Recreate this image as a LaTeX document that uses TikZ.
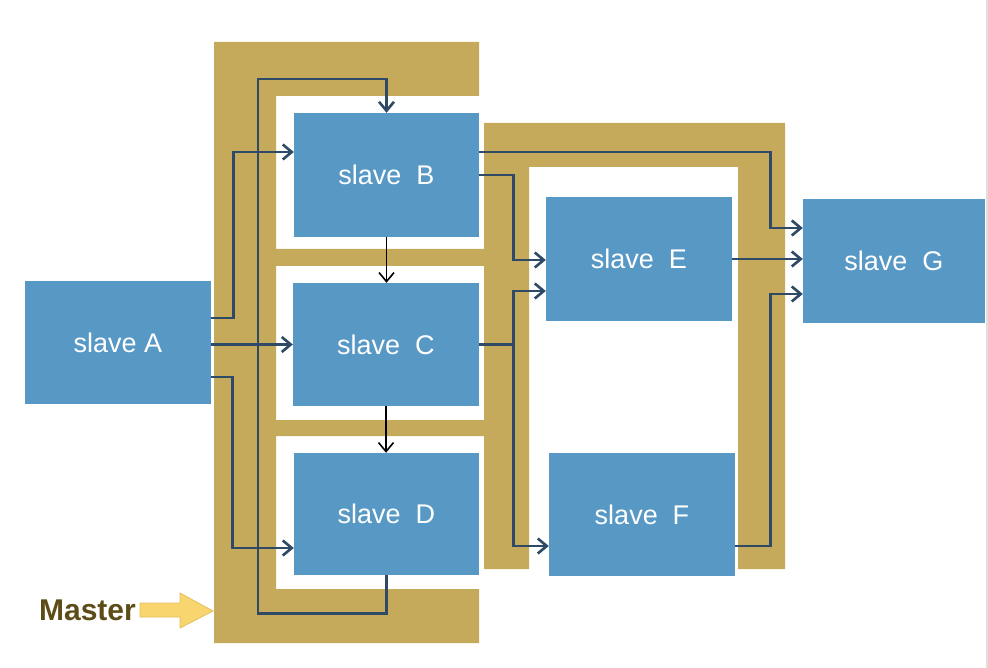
\documentclass[tikz,border=0pt]{standalone}
\usepackage{fontspec}
\setmainfont{Liberation Sans}
\usetikzlibrary{arrows.meta,calc}
\definecolor{boxblue}{RGB}{88,152,197}
\definecolor{gold}{RGB}{196,170,90}
\definecolor{navy}{RGB}{46,74,102}
\definecolor{mbrown}{RGB}{94,76,24}
\definecolor{myellow}{RGB}{249,213,112}
\definecolor{myellowd}{RGB}{228,190,90}
\tikzset{
  slavebox/.style={fill=boxblue, text=white, inner sep=0pt, font=\fontsize{27}{31}\selectfont},
  conn/.style={draw=navy, line width=2.6pt, -{Straight Barb[length=9pt,width=15pt,line width=2.6pt]}},
  seq/.style={draw=black, line width=1.6pt, -{Straight Barb[length=9pt,width=15pt,line width=1.6pt]}},
  goldfill/.style={fill=gold, draw=none}
}
\begin{document}
\begin{tikzpicture}[x=1pt,y=-1pt]
\useasboundingbox (0,0) rectangle (988,668);
\fill[white] (0,0) rectangle (988,668);
\draw[gray!25, line width=1.5pt] (987,0) -- (987,668);
% gold master frames
\fill[goldfill] (214,42) -- (479,42) -- (479,96) -- (276,96) -- (276,249) -- (484,249) -- (484,266) -- (276,266) -- (276,420) -- (484,420) -- (484,436) -- (276,436) -- (276,589) -- (479,589) -- (479,643) -- (214,643) -- cycle;
\fill[goldfill] (484,123) -- (785,123) -- (785,569) -- (738,569) -- (738,167) -- (529,167) -- (529,569) -- (484,569) -- cycle;
% slaves
\node[slavebox, minimum width=186pt, minimum height=123pt] (A) at (118,342.5) {slave A};
\node[slavebox, minimum width=185pt, minimum height=124pt] (B) at (386.5,175) {slave\ \ B};
\node[slavebox, minimum width=186pt, minimum height=123pt] (C) at (386,344.5) {slave\ \ C};
\node[slavebox, minimum width=185pt, minimum height=122pt] (D) at (386.5,514) {slave\ \ D};
\node[slavebox, minimum width=186pt, minimum height=124pt] (E) at (639,259) {slave\ \ E};
\node[slavebox, minimum width=186pt, minimum height=123pt] (F) at (642,514.5) {slave\ \ F};
\node[slavebox, minimum width=182pt, minimum height=124pt] (G) at (894,261) {slave\ \ G};
% connectors
\draw[conn] ([yshift=24.5pt]A.east) -- ++(22,0) |- ([yshift=23pt]B.west);
\draw[conn] (A.east |- C.west) -- (C.west);
\draw[conn] ([yshift=-34.5pt]A.east) -- ++(21,0) |- ([yshift=-34pt]D.west);
\draw[conn] (D.south) -- ++(0,38) -| (258,79) -| (B.north);
\draw[seq] (B.south) -- (B.south |- C.north);
\draw[seq] (C.south) -- (C.south |- D.north);
\draw[conn] ([yshift=23pt]B.east) -- ++(291,0) |- ([yshift=33pt]G.west);
\draw[conn] (B.east) -- ++(34,0) |- ([yshift=-1pt]E.west);
\draw[conn] (C.east) -- ++(34,0) |- ([yshift=-32pt]E.west);
\draw[conn] (C.east) -- ++(34,0) |- ([yshift=-31.5pt]F.west);
\draw[conn] (E.east) -- (E.east -| G.west);
\draw[conn] ([yshift=-31.5pt]F.east) -- ++(35,0) |- ([yshift=-33pt]G.west);
% master
\node[text=mbrown, font=\bfseries\fontsize{30}{34}\selectfont, inner sep=0pt, anchor=base] (M) at (87.5,620) {Master};
\draw[fill=myellow, draw=myellowd, line width=0.8pt] ([xshift=4pt]M.east |- 0,603) -- (180,603) -- (180,593) -- (213,611) -- (180,628) -- (180,617) -- ([xshift=4pt]M.east |- 0,617) -- cycle;
\end{tikzpicture}
\end{document}
